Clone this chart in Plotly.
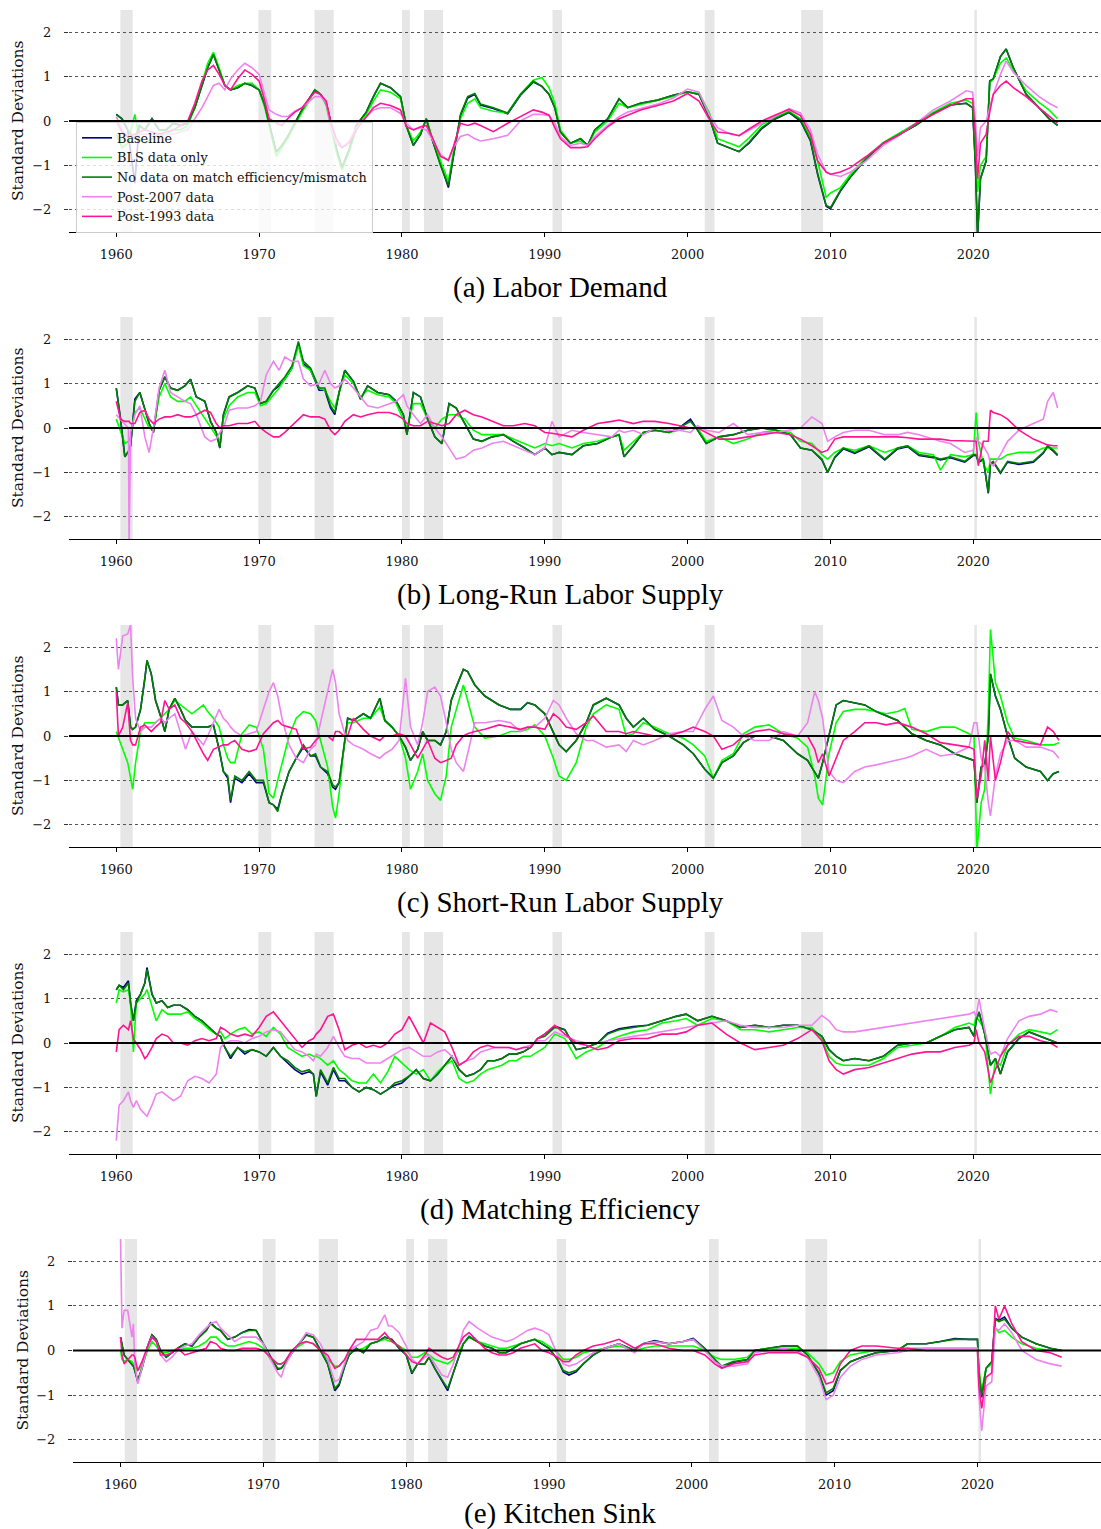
import plotly.graph_objects as go

# ---------------- data ----------------
series_names = ["Baseline", "BLS data only", "No data on match efficiency/mismatch",
                "Post-2007 data", "Post-1993 data"]
series_colors = ["#000080", "#00ff00", "#008000", "#ee82ee", "#ff1493"]
panel_titles = ["(a) Labor Demand", "(b) Long-Run Labor Supply", "(c) Short-Run Labor Supply",
                "(d) Matching Efficiency", "(e) Kitchen Sink"]
year_ticks = [1960, 1970, 1980, 1990, 2000, 2010, 2020]
sd_ticks = [-2, -1, 0, 1, 2]
rec_start = [1960.29, 1969.95, 1973.88, 1980.0, 1981.54, 1990.54, 2001.2, 2007.95, 2020.07]
rec_end = [1961.15, 1970.85, 1975.22, 1980.55, 1982.88, 1991.2, 2001.88, 2009.48, 2020.25]

# ---- (a) Labor Demand ----
years_a = [1960.0, 1960.4, 1960.8, 1961.3, 1961.6, 1962.0, 1962.5, 1963.0, 1963.5, 1964.0,
           1964.5, 1965.0, 1965.5, 1966.0, 1966.4, 1966.8, 1967.2, 1967.6, 1968.0, 1968.5,
           1969.0, 1969.5, 1970.0, 1970.4, 1970.7, 1971.2, 1971.6, 1972.0, 1972.5, 1973.0,
           1973.5, 1973.9, 1974.3, 1974.7, 1975.0, 1975.4, 1975.8, 1976.3, 1976.8, 1977.5,
           1978.0, 1978.5, 1979.2, 1979.9, 1980.3, 1980.8, 1981.3, 1981.7, 1982.1, 1982.7,
           1983.25, 1983.6, 1984.1, 1984.6, 1985.1, 1985.5, 1986.4, 1987.4, 1988.3, 1989.2,
           1989.8, 1990.3, 1990.7, 1991.1, 1991.8, 1992.5, 1993.0, 1993.5, 1994.4, 1995.2,
           1995.8, 1996.7, 1997.9, 1999.0, 2000.0, 2000.8, 2001.5, 2002.1, 2003.0, 2003.6,
           2004.3, 2005.2, 2006.1, 2007.1, 2007.9, 2008.6, 2009.1, 2009.7, 2010.0, 2010.7,
           2011.4, 2012.5, 2013.7, 2014.9, 2016.0, 2017.2, 2018.4, 2019.5, 2019.95, 2020.15,
           2020.3, 2020.5, 2020.9, 2021.15, 2021.4, 2021.9, 2022.3, 2022.8, 2023.7, 2024.6,
           2025.3, 2025.9]
a_baseline = [0.15, 0.05, -0.2, -1.4, -0.1, -0.2, 0.05, -0.2, -0.2, -0.05,
              -0.1, -0.05, 0.3, 0.8, 1.2, 1.5, 1.15, 0.8, 0.7, 0.75,
              0.85, 0.8, 0.7, 0.35, -0.05, -0.7, -0.55, -0.35, -0.05, 0.25,
              0.5, 0.7, 0.6, 0.4, 0.0, -0.6, -1.05, -0.65, -0.1, 0.2,
              0.55, 0.85, 0.75, 0.55, -0.1, -0.55, -0.3, 0.05, -0.4, -1.0,
              -1.5, -0.8, 0.12, 0.52, 0.6, 0.36, 0.28, 0.16, 0.58, 0.88,
              0.78, 0.6, 0.3, -0.25, -0.5, -0.4, -0.55, -0.2, 0.05, 0.5,
              0.3, 0.4, 0.47, 0.58, 0.66, 0.6, 0.1, -0.5, -0.62, -0.69,
              -0.5, -0.17, 0.04, 0.19, 0.0, -0.45, -1.2, -1.92, -1.98, -1.58,
              -1.26, -0.85, -0.5, -0.28, -0.09, 0.17, 0.36, 0.4, 0.3, -1.0,
              -2.6, -1.3, -0.9, 0.9, 0.95, 1.45, 1.62, 1.2, 0.6, 0.3,
              0.05, -0.1]
a_bls = [-0.3, -0.6, -0.5, 0.15, -0.4, -0.5, -0.4, -0.3, -0.3, -0.2,
         -0.2, -0.1, 0.3, 0.85, 1.3, 1.55, 1.2, 0.8, 0.7, 0.8,
         0.85, 0.85, 0.7, 0.3, -0.1, -0.8, -0.6, -0.4, -0.1, 0.2,
         0.45, 0.7, 0.6, 0.35, -0.1, -0.7, -1.1, -0.7, -0.2, 0.15,
         0.45, 0.7, 0.65, 0.5, -0.1, -0.45, -0.25, 0.05, -0.35, -0.9,
         -1.35, -0.7, 0.05, 0.4, 0.5, 0.3, 0.22, 0.18, 0.6, 0.92,
         0.98, 0.75, 0.4, -0.2, -0.5, -0.45, -0.55, -0.25, 0.0, 0.4,
         0.3, 0.38, 0.47, 0.55, 0.66, 0.62, 0.2, -0.4, -0.5, -0.58,
         -0.38, -0.08, 0.08, 0.22, 0.05, -0.35, -0.9, -1.72, -1.62, -1.5,
         -1.2, -0.82, -0.48, -0.26, -0.05, 0.2, 0.4, 0.47, 0.4, -0.7,
         -1.6, -1.0, -0.8, 0.85, 0.95, 1.3, 1.42, 1.15, 0.68, 0.42,
         0.25, 0.05]
a_nodata = [0.15, 0.05, -0.2, -0.4, -0.1, -0.2, 0.05, -0.2, -0.2, -0.05,
            -0.1, -0.05, 0.3, 0.8, 1.2, 1.5, 1.15, 0.8, 0.7, 0.75,
            0.85, 0.8, 0.7, 0.35, -0.05, -0.7, -0.55, -0.35, -0.05, 0.25,
            0.5, 0.7, 0.6, 0.4, 0.0, -0.6, -1.05, -0.65, -0.1, 0.2,
            0.55, 0.85, 0.75, 0.55, -0.1, -0.55, -0.3, 0.05, -0.4, -1.0,
            -1.45, -0.75, 0.15, 0.55, 0.62, 0.38, 0.3, 0.18, 0.6, 0.9,
            0.78, 0.6, 0.3, -0.25, -0.5, -0.4, -0.55, -0.2, 0.05, 0.5,
            0.3, 0.4, 0.47, 0.58, 0.66, 0.6, 0.1, -0.5, -0.62, -0.69,
            -0.48, -0.15, 0.05, 0.2, 0.02, -0.43, -1.18, -1.9, -1.95, -1.56,
            -1.26, -0.85, -0.5, -0.28, -0.09, 0.17, 0.36, 0.4, 0.3, -1.0,
            -2.6, -1.3, -0.9, 0.9, 0.95, 1.45, 1.62, 1.2, 0.6, 0.3,
            0.05, -0.1]
a_post2007 = [0.1, -0.2, -0.35, -0.35, -0.3, -0.3, -0.3, -0.35, -0.3, -0.3,
              -0.25, -0.2, 0.05, 0.3, 0.55, 0.8, 0.85, 0.7, 0.95, 1.15,
              1.3, 1.2, 1.05, 0.6, 0.25, 0.15, 0.1, 0.1, 0.22, 0.3,
              0.45, 0.55, 0.55, 0.4, -0.1, -0.5, -0.6, -0.45, -0.15, 0.1,
              0.25, 0.3, 0.3, 0.17, -0.05, -0.2, -0.15, -0.2, -0.4, -0.75,
              -0.9, -0.6, -0.35, -0.3, -0.4, -0.45, -0.4, -0.32, 0.0, 0.15,
              0.15, 0.12, -0.05, -0.35, -0.55, -0.5, -0.55, -0.35, -0.1, 0.1,
              0.2, 0.28, 0.38, 0.52, 0.72, 0.65, 0.15, -0.15, -0.3, -0.33,
              -0.2, -0.05, 0.1, 0.28, 0.18, -0.2, -0.75, -1.15, -1.2, -1.25,
              -1.15, -0.9, -0.55, -0.3, -0.05, 0.25, 0.45, 0.68, 0.65, 0.0,
              -0.8, -0.15, 0.0, 0.3, 0.6, 1.05, 1.35, 1.1, 0.8, 0.55,
              0.4, 0.3]
a_post1993 = [0.0, -0.25, -0.35, -0.3, -0.25, -0.2, -0.25, -0.3, -0.25, -0.2,
              -0.1, 0.0, 0.4, 0.9, 1.15, 1.25, 1.05, 0.8, 0.7, 0.95,
              1.15, 1.05, 0.9, 0.45, 0.05, -0.05, -0.1, 0.05, 0.2, 0.3,
              0.5, 0.65, 0.6, 0.45, 0.0, -0.4, -0.6, -0.5, -0.2, 0.1,
              0.3, 0.4, 0.35, 0.25, -0.13, -0.2, -0.13, -0.1, -0.35, -0.8,
              -0.88, -0.58, -0.05, -0.1, -0.05, -0.1, -0.24, -0.05, 0.1, 0.25,
              0.2, 0.13, -0.15, -0.4, -0.6, -0.6, -0.58, -0.4, -0.13, 0.05,
              0.13, 0.25, 0.35, 0.45, 0.62, 0.45, 0.05, -0.25, -0.28, -0.33,
              -0.18, 0.0, 0.13, 0.26, 0.12, -0.3, -0.9, -1.15, -1.2, -1.15,
              -1.05, -0.8, -0.5, -0.3, -0.05, 0.15, 0.35, 0.5, 0.5, -0.3,
              -1.3, -0.5, -0.3, 0.2, 0.6, 0.8, 0.9, 0.75, 0.55, 0.3,
              0.1, -0.05]

# ---- (b) Long-Run Labor Supply ----
years_b = [1960.0, 1960.3, 1960.6, 1960.85, 1960.9, 1961.0, 1961.3, 1961.65, 1962.0, 1962.3,
           1962.6, 1963.0, 1963.4, 1963.8, 1964.3, 1964.8, 1965.2, 1965.6, 1966.2, 1966.6,
           1967.0, 1967.25, 1967.5, 1967.9, 1968.5, 1969.2, 1969.7, 1970.1, 1970.5, 1971.0,
           1971.4, 1971.8, 1972.3, 1972.75, 1973.1, 1973.6, 1974.2, 1974.6, 1975.0, 1975.3,
           1975.6, 1976.0, 1976.6, 1977.1, 1977.6, 1978.3, 1979.1, 1979.6, 1980.1, 1980.35,
           1980.8, 1981.3, 1981.8, 1982.3, 1982.8, 1983.3, 1983.8, 1984.4, 1985.0, 1985.6,
           1986.3, 1987.1, 1987.8, 1988.6, 1989.3, 1990.0, 1990.5, 1991.0, 1991.9, 1992.7,
           1993.7, 1994.7, 1995.2, 1995.55, 1996.2, 1996.9, 1997.7, 1998.7, 1999.4, 2000.2,
           2000.7, 2001.3, 2002.2, 2003.2, 2004.2, 2005.2, 2006.2, 2007.2, 2007.9, 2008.7,
           2009.4, 2009.8, 2010.3, 2010.9, 2011.7, 2012.7, 2013.8, 2014.7, 2015.4, 2016.2,
           2017.2, 2017.7, 2018.4, 2019.4, 2020.0, 2020.2, 2020.35, 2020.7, 2021.05, 2021.2,
           2021.4, 2021.9, 2022.4, 2023.2, 2024.2, 2024.9, 2025.2, 2025.6, 2025.9]
b_baseline = [0.9, 0.2, -0.65, -0.5, -0.5, -0.4, 0.65, 0.8, 0.4, 0.1,
              -0.1, 0.85, 1.15, 0.9, 0.85, 0.95, 1.1, 0.7, 0.6, 0.15,
              -0.1, -0.45, 0.3, 0.7, 0.8, 0.95, 0.9, 0.55, 0.6, 0.85,
              0.95, 1.1, 1.35, 1.9, 1.45, 1.3, 0.85, 0.85, 0.45, 0.3,
              0.8, 1.3, 1.05, 0.65, 0.95, 0.8, 0.75, 0.6, 0.3, -0.15,
              0.8, 0.7, 0.2, -0.2, -0.35, 0.55, 0.45, 0.1, -0.25, -0.3,
              -0.2, -0.15, -0.3, -0.45, -0.6, -0.45, -0.6, -0.55, -0.6, -0.4,
              -0.35, -0.2, -0.15, -0.65, -0.4, -0.1, -0.05, -0.1, 0.0, 0.2,
              -0.05, -0.35, -0.2, -0.15, -0.05, 0.0, -0.05, -0.15, -0.45, -0.5,
              -0.72, -1.0, -0.67, -0.47, -0.57, -0.42, -0.72, -0.47, -0.42, -0.62,
              -0.67, -0.72, -0.67, -0.77, -0.62, -0.62, -0.77, -0.72, -1.47, -0.82,
              -0.77, -1.02, -0.77, -0.82, -0.77, -0.57, -0.42, -0.52, -0.62]
b_bls = [0.2, -0.1, -0.35, -0.3, -0.3, -0.2, 0.35, 0.45, 0.2, 0.0,
         -0.05, 0.7, 1.0, 0.7, 0.6, 0.6, 0.7, 0.5, 0.2, 0.0,
         -0.2, -0.3, 0.2, 0.5, 0.7, 0.8, 0.8, 0.5, 0.55, 0.75,
         0.9, 1.1, 1.35, 1.85, 1.4, 1.3, 0.9, 0.85, 0.6, 0.45,
         0.8, 1.2, 1.0, 0.7, 0.85, 0.75, 0.7, 0.55, 0.2, 0.0,
         0.55, 0.55, 0.2, 0.0, 0.2, 0.3, 0.3, 0.2, -0.05, -0.15,
         -0.15, -0.15, -0.25, -0.35, -0.45, -0.35, -0.4, -0.35, -0.45, -0.35,
         -0.3, -0.2, -0.15, -0.5, -0.3, -0.1, -0.05, -0.1, -0.05, 0.0,
         0.0, -0.3, -0.2, -0.35, -0.25, -0.1, -0.05, -0.1, -0.3, -0.35,
         -0.6, -0.7, -0.55, -0.45, -0.5, -0.4, -0.55, -0.45, -0.4, -0.55,
         -0.6, -0.95, -0.6, -0.65, -0.6, 0.35, -0.3, -0.8, -1.0, -0.7,
         -0.7, -0.7, -0.6, -0.55, -0.55, -0.45, -0.45, -0.45, -0.45]
b_nodata = [0.9, 0.2, -0.65, -0.5, -0.5, -0.4, 0.6, 0.8, 0.4, 0.1,
            -0.1, 0.85, 1.15, 0.9, 0.85, 0.95, 1.1, 0.7, 0.6, 0.15,
            -0.1, -0.45, 0.3, 0.7, 0.8, 0.95, 0.9, 0.55, 0.6, 0.85,
            1.0, 1.15, 1.4, 1.95, 1.5, 1.35, 0.9, 0.9, 0.5, 0.35,
            0.8, 1.3, 1.05, 0.65, 0.95, 0.8, 0.75, 0.6, 0.3, -0.15,
            0.8, 0.7, 0.2, -0.2, -0.35, 0.55, 0.45, 0.1, -0.25, -0.3,
            -0.2, -0.15, -0.3, -0.45, -0.6, -0.45, -0.6, -0.55, -0.6, -0.4,
            -0.35, -0.2, -0.15, -0.65, -0.4, -0.1, -0.05, -0.1, 0.0, 0.15,
            -0.05, -0.35, -0.2, -0.15, -0.05, 0.0, -0.05, -0.15, -0.45, -0.5,
            -0.7, -1.0, -0.65, -0.45, -0.55, -0.4, -0.7, -0.45, -0.4, -0.6,
            -0.65, -0.7, -0.65, -0.75, -0.6, -0.6, -0.75, -0.7, -1.45, -0.8,
            -0.75, -1.0, -0.75, -0.8, -0.75, -0.55, -0.4, -0.5, -0.6]
b_post2007 = [0.3, 0.2, 0.1, 0.0, -2.6, -0.1, 0.3, 0.5, -0.2, -0.55,
              0.0, 0.9, 1.3, 0.8, 0.7, 0.6, 0.55, 0.3, -0.2, -0.3,
              -0.25, -0.1, 0.0, 0.4, 0.45, 0.45, 0.5, 0.6, 1.2, 1.5,
              1.3, 1.6, 1.5, 1.5, 1.1, 0.95, 1.0, 1.3, 1.0, 0.9,
              0.95, 1.1, 0.9, 0.7, 0.5, 0.45, 0.55, 0.6, 0.75, 0.5,
              0.3, 0.1, 0.3, 0.0, -0.2, -0.45, -0.7, -0.65, -0.5, -0.45,
              -0.35, -0.3, -0.4, -0.5, -0.6, -0.45, 0.15, -0.2, -0.05, -0.1,
              -0.15, -0.2, -0.05, -0.1, -0.05, -0.15, 0.0, -0.05, -0.05, -0.1,
              0.05, -0.05, -0.1, 0.1, -0.15, -0.1, -0.1, -0.05, 0.0, 0.25,
              0.1, -0.3, -0.2, -0.1, -0.05, -0.05, -0.15, -0.15, -0.1, -0.15,
              -0.25, -0.3, -0.35, -0.55, -0.5, -0.2, -0.3, -0.4, -0.6, -0.8,
              -0.85, -0.6, -0.3, -0.05, 0.1, 0.2, 0.6, 0.8, 0.45]
b_post1993 = [0.6, 0.2, 0.15, 0.15, 0.15, 0.1, 0.1, 0.35, 0.4, 0.2,
              0.1, 0.2, 0.25, 0.25, 0.3, 0.25, 0.25, 0.3, 0.4, 0.35,
              0.1, 0.0, 0.05, 0.05, 0.1, 0.1, 0.15, 0.0, -0.1, -0.2,
              -0.2, -0.1, 0.05, 0.2, 0.3, 0.25, 0.25, 0.2, -0.05, -0.15,
              -0.05, 0.15, 0.3, 0.25, 0.3, 0.35, 0.35, 0.3, 0.2, 0.1,
              0.05, 0.05, 0.15, 0.1, 0.05, 0.1, 0.3, 0.4, 0.3, 0.25,
              0.15, 0.05, 0.05, 0.1, 0.05, -0.1, -0.12, -0.15, -0.2, -0.05,
              0.1, 0.15, 0.18, 0.15, 0.1, 0.15, 0.15, 0.1, 0.05, 0.0,
              0.0, -0.1, -0.25, -0.25, -0.2, -0.15, -0.1, -0.15, -0.25, -0.4,
              -0.55, -0.5, -0.25, -0.2, -0.2, -0.2, -0.2, -0.2, -0.22, -0.25,
              -0.25, -0.25, -0.28, -0.3, -0.3, -0.3, -0.85, -0.3, -0.3, 0.4,
              0.35, 0.3, 0.2, -0.05, -0.25, -0.35, -0.38, -0.4, -0.4]

# ---- (c) Short-Run Labor Supply ----
years_c = [1960.0, 1960.15, 1960.45, 1960.8, 1961.0, 1961.15, 1961.35, 1961.7, 1962.0, 1962.15,
           1962.45, 1962.75, 1963.1, 1963.4, 1963.7, 1964.1, 1964.5, 1964.85, 1965.3, 1966.1,
           1966.4, 1966.8, 1967.2, 1967.5, 1967.8, 1968.0, 1968.3, 1968.8, 1969.3, 1969.8,
           1970.3, 1970.7, 1971.0, 1971.3, 1971.6, 1972.1, 1972.6, 1973.1, 1973.6, 1973.95,
           1974.3, 1974.8, 1975.15, 1975.35, 1975.6, 1975.95, 1976.2, 1976.6, 1977.3, 1977.8,
           1978.45, 1978.8, 1979.3, 1979.8, 1980.25, 1980.6, 1981.1, 1981.45, 1981.8, 1982.3,
           1982.7, 1983.1, 1983.45, 1983.8, 1984.3, 1984.6, 1985.1, 1985.8, 1986.8, 1987.6,
           1988.3, 1988.8, 1989.3, 1990.0, 1990.6, 1991.0, 1991.5, 1992.2, 1992.9, 1993.4,
           1994.3, 1995.2, 1995.7, 1996.2, 1996.9, 1997.7, 1998.7, 1999.7, 2000.4, 2001.2,
           2001.8, 2002.4, 2003.2, 2003.9, 2004.7, 2005.7, 2006.7, 2007.7, 2008.4, 2008.9,
           2009.15, 2009.45, 2009.9, 2010.4, 2010.9, 2011.7, 2012.4, 2013.2, 2013.9, 2014.7,
           2015.2, 2015.7, 2016.7, 2017.7, 2018.7, 2019.7, 2020.05, 2020.25, 2020.55, 2020.8,
           2021.05, 2021.2, 2021.55, 2021.9, 2022.4, 2022.9, 2023.7, 2024.7, 2025.2, 2025.6, 2026.0]
c_baseline = [1.1, 0.7, 0.7, 0.8, 0.2, 0.15, 0.2, 0.6, 1.3, 1.7,
              1.4, 0.8, 0.45, 0.1, 0.6, 0.85, 0.6, 0.35, 0.2, 0.2,
              0.2, 0.25, -0.3, -0.8, -0.95, -1.5, -0.95, -1.05, -0.85, -1.05,
              -1.05, -1.5, -1.55, -1.65, -1.3, -0.8, -0.5, -0.25, -0.45, -0.45,
              -0.7, -0.85, -1.15, -1.2, -1.05, -0.25, 0.4, 0.35, 0.5, 0.4,
              0.85, 0.35, 0.2, 0.0, -0.25, -0.55, -0.3, 0.1, -0.1, -0.1,
              -0.2, 0.1, 0.8, 1.1, 1.5, 1.45, 1.15, 0.9, 0.7, 0.6,
              0.6, 0.75, 0.7, 0.5, 0.1, -0.2, -0.35, -0.1, 0.3, 0.7,
              0.85, 0.7, 0.4, 0.2, 0.4, 0.15, 0.0, -0.2, -0.4, -0.75,
              -0.95, -0.6, -0.45, -0.15, 0.0, 0.0, -0.1, -0.4, -0.55, -0.8,
              -0.95, -0.6, 0.0, 0.7, 0.8, 0.75, 0.7, 0.55, 0.45, 0.35,
              0.2, 0.05, -0.1, -0.2, -0.4, -0.5, -0.55, -1.5, -0.7, -0.65,
              0.0, 1.4, 0.9, 0.6, 0.0, -0.5, -0.7, -0.8, -1.0, -0.85, -0.8]
c_bls = [0.1, -0.05, -0.3, -0.6, -1.0, -1.2, -0.6, 0.1, 0.3, 0.3,
         0.3, 0.3, 0.4, 0.5, 0.6, 0.8, 0.7, 0.6, 0.5, 0.7,
         0.55, 0.4, 0.2, -0.2, -0.5, -0.6, -0.6, 0.05, 0.25, 0.2,
         -0.3, -1.3, -1.4, -1.0, -0.6, 0.0, 0.4, 0.55, 0.5, 0.35,
         -0.1, -0.7, -1.6, -1.85, -1.3, -0.2, 0.3, 0.3, 0.4, 0.4,
         0.65, 0.35, 0.2, 0.0, -0.5, -1.2, -0.8, -0.4, -1.0, -1.3,
         -1.45, -0.9, 0.2, 0.6, 1.15, 0.8, 0.2, -0.05, 0.0, 0.1,
         0.1, 0.15, 0.25, 0.0, -0.5, -0.9, -1.0, -0.6, 0.2, 0.5,
         0.7, 0.6, 0.0, 0.05, 0.3, 0.2, 0.05, -0.05, -0.2, -0.45,
         -0.95, -0.55, -0.4, 0.05, 0.2, 0.25, 0.05, -0.05, -0.25, -0.9,
         -1.4, -1.55, -0.4, 0.3, 0.55, 0.6, 0.6, 0.55, 0.5, 0.55,
         0.62, 0.15, 0.1, 0.2, 0.2, 0.05, 0.0, -2.6, -1.5, -1.2,
         0.5, 2.4, 1.2, 0.9, 0.3, -0.05, -0.1, -0.2, -0.2, -0.2, -0.15]
c_nodata = [1.1, 0.7, 0.7, 0.8, 0.2, 0.15, 0.2, 0.6, 1.3, 1.7,
            1.4, 0.8, 0.45, 0.1, 0.6, 0.85, 0.6, 0.35, 0.2, 0.2,
            0.2, 0.25, -0.3, -0.8, -0.9, -1.45, -0.9, -1.0, -0.8, -1.0,
            -1.0, -1.5, -1.55, -1.7, -1.3, -0.8, -0.5, -0.2, -0.45, -0.4,
            -0.7, -0.8, -1.1, -1.15, -1.05, -0.25, 0.4, 0.35, 0.5, 0.4,
            0.85, 0.35, 0.2, 0.0, -0.25, -0.55, -0.3, 0.1, -0.1, -0.1,
            -0.2, 0.1, 0.8, 1.1, 1.5, 1.45, 1.15, 0.9, 0.7, 0.6,
            0.6, 0.75, 0.7, 0.5, 0.1, -0.2, -0.35, -0.1, 0.3, 0.7,
            0.85, 0.7, 0.4, 0.2, 0.4, 0.15, 0.0, -0.2, -0.4, -0.75,
            -0.95, -0.6, -0.45, -0.15, 0.0, 0.0, -0.1, -0.4, -0.55, -0.8,
            -0.95, -0.6, 0.0, 0.7, 0.8, 0.75, 0.7, 0.55, 0.45, 0.35,
            0.2, 0.05, -0.1, -0.2, -0.4, -0.5, -0.55, -1.5, -0.7, -0.65,
            0.0, 1.4, 0.9, 0.6, 0.0, -0.5, -0.7, -0.8, -1.0, -0.85, -0.8]
c_post2007 = [2.2, 1.5, 2.25, 2.3, 2.5, 1.3, 0.4, 0.1, 0.2, 0.2,
              0.2, 0.3, 0.4, 0.3, 0.4, 0.5, 0.1, -0.3, 0.1, -0.2,
              0.0, 0.3, 0.6, 0.4, 0.3, 0.2, 0.1, 0.0, 0.05, 0.1,
              0.6, 1.0, 1.2, 0.9, 0.4, -0.2, -0.5, -0.6, -0.3, -0.2,
              0.3, 1.0, 1.5, 1.2, 0.5, 0.1, -0.1, -0.2, -0.3, -0.4,
              -0.5, -0.4, -0.3, -0.1, 1.3, 0.2, -0.2, 0.3, 1.0, 1.1,
              0.9, 0.3, -0.3, -0.6, -0.8, -0.4, 0.3, 0.3, 0.35, 0.3,
              0.1, 0.2, 0.2, 0.4, 0.8, 0.7, 0.4, 0.05, -0.1, -0.1,
              -0.25, -0.2, -0.35, -0.1, -0.2, -0.1, 0.05, 0.1, 0.1, 0.6,
              0.9, 0.35, 0.2, 0.0, -0.1, -0.1, 0.1, 0.0, 0.3, 1.0,
              0.8, 0.4, -0.8, -1.0, -1.05, -0.8, -0.7, -0.65, -0.6, -0.55,
              -0.5, -0.45, -0.3, -0.45, -0.4, -0.25, 0.3, 0.3, -0.5, -0.7,
              -1.5, -1.8, -0.9, -0.4, -0.1, -0.1, -0.25, -0.25, -0.3, -0.35, -0.5]
c_post1993 = [1.0, 0.0, 0.2, 0.75, -0.1, -0.2, -0.2, 0.2, 0.25, 0.2,
              0.1, 0.2, 0.3, 0.8, 0.6, 0.7, 0.4, 0.3, 0.1, -0.4,
              -0.55, -0.3, -0.25, -0.2, -0.2, -0.15, -0.1, -0.3, -0.35, -0.3,
              0.05, 0.2, 0.3, 0.35, 0.25, 0.2, 0.15, -0.3, -0.25, -0.1,
              0.0, 0.0, -0.1, 0.1, 0.1, 0.0, 0.0, 0.4, 0.15, 0.0,
              -0.1, 0.0, 0.0, 0.05, 0.0, -0.2, -0.5, -0.3, -0.1, -0.5,
              -0.6, -0.55, -0.5, -0.2, 0.0, 0.05, 0.1, 0.15, 0.25, 0.2,
              0.15, 0.2, 0.2, 0.15, 0.5, 0.4, 0.2, 0.15, 0.3, 0.45,
              0.1, 0.1, 0.05, 0.1, 0.05, 0.0, 0.0, 0.1, 0.2, 0.1,
              0.0, -0.3, -0.2, 0.0, 0.1, 0.15, 0.05, 0.0, 0.0, -0.3,
              -0.6, -0.4, -0.9, -0.5, -0.1, 0.1, 0.3, 0.3, 0.25, 0.3,
              0.25, 0.2, 0.05, -0.15, -0.2, -0.25, -0.3, -1.4, -0.9, -0.1,
              -1.0, 0.0, -1.0, -0.6, 0.1, -0.1, -0.15, -0.2, 0.2, 0.1, -0.1]

# ---- (d) Matching Efficiency ----
years_d = [1960.0, 1960.2, 1960.5, 1960.85, 1961.0, 1961.2, 1961.4, 1961.7, 1962.0, 1962.15,
           1962.5, 1962.8, 1963.2, 1963.6, 1964.0, 1964.5, 1965.0, 1965.5, 1966.0, 1966.5,
           1967.0, 1967.3, 1967.6, 1968.0, 1968.5, 1969.0, 1969.5, 1970.0, 1970.5, 1971.0,
           1971.5, 1972.0, 1972.5, 1973.0, 1973.5, 1973.8, 1974.0, 1974.3, 1974.8, 1975.2,
           1975.6, 1976.0, 1976.5, 1977.0, 1977.5, 1978.0, 1978.5, 1979.0, 1979.5, 1980.0,
           1980.5, 1981.0, 1981.5, 1982.0, 1982.5, 1983.0, 1983.5, 1984.0, 1984.5, 1985.0,
           1985.5, 1986.0, 1986.5, 1987.0, 1987.5, 1988.0, 1988.5, 1989.0, 1989.5, 1990.0,
           1990.7, 1991.4, 1992.2, 1992.9, 1993.7, 1994.4, 1995.2, 1996.2, 1997.2, 1998.2,
           1999.2, 1999.9, 2000.7, 2001.7, 2002.7, 2003.7, 2004.7, 2005.7, 2006.7, 2007.7,
           2008.7, 2009.4, 2009.9, 2010.4, 2010.9, 2011.7, 2012.7, 2013.7, 2014.7, 2015.7,
           2016.7, 2017.7, 2018.7, 2019.7, 2020.05, 2020.2, 2020.4, 2020.8, 2021.2, 2021.55,
           2021.9, 2022.4, 2023.2, 2023.9, 2024.7, 2025.4, 2025.9]
d_baseline = [1.2, 1.3, 1.25, 1.4, 0.9, 0.5, 0.95, 1.1, 1.35, 1.7,
              1.1, 0.9, 0.95, 0.8, 0.85, 0.85, 0.75, 0.6, 0.5, 0.35,
              0.2, 0.15, -0.1, -0.35, -0.1, -0.25, -0.15, -0.2, -0.3, -0.1,
              -0.3, -0.45, -0.6, -0.7, -0.65, -0.7, -1.2, -0.65, -0.95, -0.6,
              -0.85, -0.85, -1.0, -1.1, -1.0, -1.05, -1.15, -1.05, -0.95, -0.9,
              -0.75, -0.6, -0.8, -0.85, -0.7, -0.5, -0.3, -0.6, -0.75, -0.7,
              -0.6, -0.4, -0.4, -0.35, -0.25, -0.25, -0.2, -0.1, 0.1, 0.2,
              0.38, 0.3, -0.15, -0.1, 0.0, 0.22, 0.32, 0.37, 0.4, 0.5,
              0.6, 0.65, 0.5, 0.6, 0.5, 0.35, 0.4, 0.35, 0.4, 0.4,
              0.3, 0.15, -0.15, -0.3, -0.4, -0.35, -0.4, -0.3, -0.05, 0.0,
              0.0, 0.15, 0.3, 0.35, 0.15, 0.5, 0.7, 0.2, -0.5, -0.35,
              -0.7, -0.2, 0.1, 0.25, 0.15, 0.05, 0.0]
d_bls = [0.9, 1.2, 1.15, 1.2, 0.9, -0.2, 0.9, 1.0, 1.1, 1.2,
         0.8, 0.5, 0.75, 0.65, 0.65, 0.65, 0.7, 0.55, 0.45, 0.3,
         0.2, 0.25, 0.1, 0.2, 0.3, 0.35, 0.2, 0.25, 0.15, 0.35,
         0.2, -0.1, -0.2, -0.3, -0.25, -0.3, -0.3, -0.35, -0.5, -0.4,
         -0.6, -0.7, -0.85, -0.9, -0.9, -0.7, -0.9, -0.65, -0.3, -0.45,
         -0.6, -0.7, -0.6, -0.85, -0.65, -0.5, -0.4, -0.8, -0.9, -0.85,
         -0.7, -0.6, -0.55, -0.5, -0.4, -0.4, -0.3, -0.3, -0.2, -0.1,
         0.2, 0.1, -0.35, -0.2, -0.1, 0.05, 0.15, 0.25, 0.3, 0.45,
         0.5, 0.55, 0.4, 0.55, 0.5, 0.3, 0.3, 0.25, 0.3, 0.35,
         0.35, 0.1, -0.3, -0.45, -0.5, -0.5, -0.5, -0.35, -0.1, -0.05,
         0.0, 0.15, 0.35, 0.45, 0.4, 0.6, 0.5, 0.3, -1.15, -0.4,
         -0.5, -0.05, 0.2, 0.3, 0.25, 0.2, 0.3]
d_nodata = [1.2, 1.3, 1.2, 1.35, 0.9, 0.5, 0.9, 1.1, 1.35, 1.65,
            1.1, 0.9, 0.95, 0.8, 0.85, 0.85, 0.75, 0.6, 0.5, 0.35,
            0.2, 0.15, -0.1, -0.3, -0.1, -0.2, -0.15, -0.2, -0.3, -0.1,
            -0.3, -0.4, -0.55, -0.65, -0.6, -0.7, -1.2, -0.6, -0.9, -0.55,
            -0.8, -0.8, -1.0, -1.1, -1.0, -1.05, -1.15, -1.05, -0.9, -0.85,
            -0.75, -0.6, -0.8, -0.85, -0.7, -0.5, -0.3, -0.6, -0.75, -0.7,
            -0.6, -0.4, -0.4, -0.35, -0.25, -0.25, -0.2, -0.1, 0.1, 0.15,
            0.35, 0.3, -0.15, -0.1, 0.0, 0.2, 0.3, 0.35, 0.4, 0.5,
            0.6, 0.65, 0.5, 0.6, 0.5, 0.35, 0.4, 0.35, 0.4, 0.4,
            0.3, 0.15, -0.15, -0.3, -0.4, -0.35, -0.4, -0.3, -0.05, 0.0,
            0.0, 0.15, 0.3, 0.35, 0.15, 0.5, 0.7, 0.2, -0.5, -0.35,
            -0.7, -0.2, 0.1, 0.25, 0.15, 0.05, 0.0]
d_post2007 = [-2.2, -1.4, -1.3, -1.1, -1.3, -1.45, -1.3, -1.5, -1.6, -1.65,
              -1.4, -1.15, -1.1, -1.2, -1.3, -1.2, -0.85, -0.75, -0.8, -0.9,
              -0.7, -0.1, 0.0, 0.05, 0.05, 0.0, 0.1, 0.15, 0.25, 0.3,
              0.25, 0.05, -0.15, -0.2, -0.3, -0.4, -0.25, -0.3, -0.1, 0.15,
              -0.1, -0.3, -0.35, -0.35, -0.45, -0.45, -0.45, -0.35, -0.25, -0.15,
              -0.1, -0.2, -0.3, -0.3, -0.2, -0.15, -0.3, -0.5, -0.4, -0.35,
              -0.2, -0.15, -0.1, -0.1, -0.1, -0.15, -0.1, -0.05, 0.05, 0.05,
              0.25, 0.15, 0.05, 0.0, 0.0, 0.05, 0.1, 0.15, 0.2, 0.25,
              0.3, 0.35, 0.4, 0.45, 0.5, 0.4, 0.35, 0.35, 0.35, 0.4,
              0.4, 0.62, 0.5, 0.3, 0.25, 0.25, 0.3, 0.35, 0.4, 0.45,
              0.5, 0.55, 0.6, 0.65, 0.7, 0.6, 1.0, 0.3, -0.25, -0.2,
              -0.3, 0.1, 0.5, 0.6, 0.65, 0.75, 0.7]
d_post1993 = [-0.2, 0.3, 0.4, 0.3, 0.5, 0.1, 0.0, -0.15, -0.35, -0.3,
              -0.1, 0.1, 0.2, 0.15, 0.0, 0.0, -0.05, 0.05, 0.1, 0.05,
              0.1, 0.35, 0.3, 0.2, 0.15, 0.2, 0.15, 0.35, 0.6, 0.7,
              0.5, 0.3, 0.1, -0.1, 0.05, 0.1, 0.2, 0.3, 0.6, 0.65,
              0.3, -0.15, -0.05, 0.0, -0.1, -0.05, -0.1, 0.0, 0.2, 0.3,
              0.6, 0.3, 0.0, 0.45, 0.35, 0.25, -0.1, -0.5, -0.4, -0.2,
              -0.1, -0.05, -0.1, -0.1, -0.1, -0.15, -0.1, -0.1, 0.1, 0.2,
              0.4, 0.2, 0.0, -0.05, -0.15, -0.1, 0.05, 0.1, 0.1, 0.2,
              0.2, 0.25, 0.4, 0.45, 0.2, 0.0, -0.15, -0.1, -0.05, 0.1,
              0.3, 0.05, -0.4, -0.6, -0.7, -0.6, -0.55, -0.45, -0.35, -0.25,
              -0.2, -0.2, -0.1, -0.05, 0.0, 0.3, 0.0, -0.2, -0.9, -0.6,
              -0.3, -0.05, 0.15, 0.15, 0.05, 0.0, -0.1]

# ---- (e) Kitchen Sink ----
years_e = [1960.0, 1960.1, 1960.25, 1960.5, 1960.8, 1960.9, 1961.0, 1961.2, 1961.5, 1961.9,
           1962.2, 1962.5, 1962.8, 1963.2, 1963.6, 1964.0, 1964.5, 1965.0, 1965.5, 1966.0,
           1966.3, 1966.7, 1967.0, 1967.5, 1968.0, 1968.5, 1969.0, 1969.5, 1970.0, 1970.5,
           1971.0, 1971.25, 1971.5, 1972.0, 1972.5, 1973.0, 1973.5, 1974.0, 1974.5, 1975.0,
           1975.3, 1975.7, 1976.0, 1976.5, 1977.0, 1977.5, 1978.0, 1978.5, 1978.75, 1979.0,
           1979.5, 1980.0, 1980.4, 1980.8, 1981.3, 1981.6, 1982.0, 1982.5, 1982.9, 1983.3,
           1983.7, 1984.0, 1984.4, 1985.0, 1985.5, 1986.0, 1986.5, 1987.0, 1987.5, 1988.0,
           1988.5, 1989.0, 1989.5, 1990.0, 1990.6, 1991.0, 1991.4, 1991.9, 1992.4, 1993.1,
           1993.9, 1994.9, 1996.0, 1996.6, 1997.4, 1998.4, 1999.4, 2000.1, 2000.9, 2001.6,
           2002.1, 2002.9, 2003.9, 2004.4, 2005.4, 2006.4, 2007.4, 2008.1, 2008.9, 2009.4,
           2009.9, 2010.4, 2011.1, 2011.9, 2012.9, 2014.4, 2015.1, 2016.4, 2017.4, 2018.4,
           2019.4, 2020.0, 2020.1, 2020.3, 2020.6, 2021.0, 2021.25, 2021.5, 2021.9, 2022.4,
           2023.1, 2024.1, 2025.1, 2025.9]
e_baseline = [0.3, 0.1, -0.1, -0.2, -0.3, -0.35, -0.45, -0.7, -0.4, 0.1,
              0.35, 0.25, 0.0, -0.15, -0.05, 0.05, 0.15, 0.1, 0.3, 0.45,
              0.62, 0.5, 0.45, 0.25, 0.3, 0.4, 0.47, 0.45, 0.15, -0.15,
              -0.42, -0.4, -0.3, -0.05, 0.15, 0.35, 0.3, 0.0, -0.3, -0.9,
              -0.78, -0.35, -0.1, 0.05, -0.05, 0.15, 0.2, 0.3, 0.28, 0.25,
              0.05, -0.1, -0.52, -0.3, -0.3, -0.15, -0.4, -0.68, -0.9, -0.5,
              -0.1, 0.15, 0.32, 0.2, 0.1, 0.05, -0.05, -0.05, 0.05, 0.15,
              0.2, 0.25, 0.15, 0.05, -0.2, -0.48, -0.55, -0.48, -0.3, -0.1,
              0.05, 0.15, 0.0, 0.15, 0.22, 0.15, 0.2, 0.27, 0.05, -0.2,
              -0.38, -0.27, -0.2, 0.0, 0.05, 0.1, 0.1, -0.1, -0.52, -1.0,
              -0.9, -0.45, -0.25, -0.15, -0.05, 0.0, 0.15, 0.15, 0.2, 0.27,
              0.25, 0.25, -0.5, -1.05, -0.4, -0.25, 0.72, 0.68, 0.75, 0.5,
              0.3, 0.15, 0.05, 0.0]
e_bls = [0.0, -0.2, -0.25, -0.2, -0.25, -0.3, -0.3, -0.45, -0.35, 0.0,
         0.2, 0.1, -0.05, -0.05, 0.0, 0.0, 0.05, 0.05, 0.1, 0.2,
         0.3, 0.3, 0.2, 0.1, 0.1, 0.15, 0.2, 0.15, 0.05, -0.2,
         -0.3, -0.3, -0.25, 0.0, 0.1, 0.2, 0.15, 0.0, -0.2, -0.35,
         -0.35, -0.2, -0.05, 0.0, 0.05, 0.15, 0.2, 0.25, 0.22, 0.2,
         0.1, 0.0, -0.15, -0.15, -0.05, -0.1, -0.2, -0.25, -0.3, -0.2,
         0.0, 0.15, 0.3, 0.2, 0.15, 0.1, 0.05, 0.05, 0.1, 0.15,
         0.2, 0.25, 0.2, 0.1, -0.05, -0.2, -0.2, -0.15, -0.05, 0.0,
         0.05, 0.1, 0.0, 0.05, 0.1, 0.1, 0.1, 0.1, 0.0, -0.15,
         -0.2, -0.2, -0.15, 0.0, 0.05, 0.05, 0.05, -0.05, -0.3, -0.55,
         -0.5, -0.25, -0.1, -0.05, 0.0, 0.0, 0.05, 0.05, 0.05, 0.05,
         0.05, 0.05, -0.4, -0.9, -0.4, -0.3, 0.5, 0.4, 0.45, 0.3,
         0.15, 0.05, 0.0, 0.0]
e_nodata = [0.3, 0.1, -0.1, -0.2, -0.3, -0.35, -0.45, -0.65, -0.4, 0.1,
            0.35, 0.25, 0.0, -0.15, -0.05, 0.05, 0.15, 0.1, 0.3, 0.45,
            0.6, 0.5, 0.45, 0.25, 0.3, 0.4, 0.45, 0.45, 0.15, -0.15,
            -0.4, -0.4, -0.3, -0.05, 0.15, 0.35, 0.3, 0.0, -0.3, -0.85,
            -0.75, -0.35, -0.1, 0.05, -0.05, 0.15, 0.2, 0.3, 0.28, 0.25,
            0.05, -0.1, -0.5, -0.3, -0.3, -0.15, -0.4, -0.65, -0.85, -0.5,
            -0.1, 0.15, 0.3, 0.2, 0.1, 0.05, -0.05, -0.05, 0.05, 0.15,
            0.2, 0.25, 0.15, 0.05, -0.2, -0.45, -0.5, -0.45, -0.3, -0.1,
            0.05, 0.15, 0.0, 0.15, 0.2, 0.15, 0.2, 0.25, 0.05, -0.2,
            -0.35, -0.25, -0.2, 0.0, 0.05, 0.1, 0.1, -0.1, -0.5, -0.95,
            -0.85, -0.45, -0.25, -0.15, -0.05, 0.0, 0.15, 0.15, 0.2, 0.25,
            0.25, 0.25, -0.5, -1.0, -0.4, -0.25, 0.7, 0.65, 0.7, 0.5,
            0.3, 0.15, 0.05, 0.0]
e_post2007 = [2.5, 0.5, 0.9, 0.9, 0.3, 0.6, -0.3, -0.75, -0.4, 0.1,
              0.3, 0.2, -0.1, -0.25, -0.15, 0.0, 0.1, 0.15, 0.35, 0.5,
              0.6, 0.65, 0.5, 0.35, 0.2, 0.3, 0.3, 0.3, 0.15, -0.2,
              -0.5, -0.6, -0.35, -0.05, 0.15, 0.4, 0.35, 0.15, -0.2, -0.7,
              -0.65, -0.3, 0.0, 0.1, 0.2, 0.45, 0.5, 0.8, 0.55, 0.55,
              0.4, 0.1, -0.2, -0.3, -0.15, -0.1, -0.3, -0.55, -0.6, -0.3,
              0.1, 0.45, 0.65, 0.5, 0.4, 0.3, 0.25, 0.2, 0.25, 0.35,
              0.45, 0.5, 0.45, 0.35, -0.1, -0.3, -0.35, -0.3, -0.2, -0.05,
              0.05, 0.15, -0.05, 0.15, 0.2, 0.15, 0.2, 0.25, 0.0, -0.25,
              -0.35, -0.35, -0.3, -0.05, 0.0, 0.05, 0.0, -0.15, -0.6, -1.1,
              -1.0, -0.6, -0.35, -0.2, -0.1, -0.05, 0.0, 0.05, 0.05, 0.05,
              0.05, 0.05, -1.0, -1.8, -0.8, -0.7, 0.5, 0.45, 0.6, 0.4,
              0.0, -0.2, -0.3, -0.35]
e_post1993 = [0.3, -0.1, -0.3, -0.2, -0.1, -0.1, -0.15, -0.45, -0.25, 0.1,
              0.3, 0.2, -0.1, -0.1, -0.05, 0.05, -0.1, -0.05, 0.0, 0.05,
              0.2, 0.15, 0.05, 0.0, 0.0, 0.05, 0.05, 0.05, 0.0, -0.15,
              -0.3, -0.3, -0.25, 0.0, 0.15, 0.2, 0.15, 0.0, -0.1, -0.4,
              -0.35, -0.2, 0.0, 0.25, 0.25, 0.25, 0.25, 0.4, 0.3, 0.2,
              0.1, -0.1, -0.25, -0.3, -0.1, 0.05, -0.05, -0.15, -0.2, -0.15,
              0.1, 0.3, 0.4, 0.2, 0.05, -0.05, -0.1, -0.1, -0.05, 0.05,
              0.1, 0.15, 0.0, -0.05, -0.15, -0.25, -0.25, -0.1, 0.0, 0.1,
              0.15, 0.25, 0.05, 0.15, 0.15, 0.05, 0.0, 0.0, -0.1, -0.3,
              -0.4, -0.3, -0.25, -0.1, -0.05, -0.05, -0.05, -0.15, -0.4, -0.75,
              -0.7, -0.3, 0.0, 0.1, 0.1, 0.05, 0.05, 0.0, 0.0, 0.0,
              0.0, 0.0, -0.8, -1.3, -0.6, -0.5, 1.0, 0.7, 1.0, 0.6,
              0.2, 0.0, -0.05, -0.15]

panels = [
    (years_a, [a_baseline, a_bls, a_nodata, a_post2007, a_post1993]),
    (years_b, [b_baseline, b_bls, b_nodata, b_post2007, b_post1993]),
    (years_c, [c_baseline, c_bls, c_nodata, c_post2007, c_post1993]),
    (years_d, [d_baseline, d_bls, d_nodata, d_post2007, d_post1993]),
    (years_e, [e_baseline, e_bls, e_nodata, e_post2007, e_post1993]),
]

# ---------------- layout geometry (pixels of a 1101 x 1529 page) ----------------
W, H = 1101, 1529
panel_px = [(10, 232), (317, 539), (625, 847), (932, 1154), (1239, 1462)]   # top, bottom
left_px = [69, 69, 69, 69, 73]
x_ranges = [(1956.69, 2028.94)] * 4 + [(1956.67, 2028.65)]
title_px_y = [287, 594, 902, 1209, 1513]
ylabel_px_x = [18, 18, 18, 18, 22]

SERIF = "DejaVu Serif"
TIMES = "Liberation Serif, Times New Roman, serif"

fig = go.Figure()
layout = dict(width=W, height=H, margin=dict(l=0, r=0, t=0, b=0),
              paper_bgcolor="white", plot_bgcolor="white", showlegend=True)
shapes, annotations = [], []

for i, (yrs, vals) in enumerate(panels):
    n = i + 1
    xa = "x" if n == 1 else f"x{n}"
    ya = "y" if n == 1 else f"y{n}"
    for j, v in enumerate(vals):
        if len(v) != len(yrs):
            raise ValueError(f"panel {n} series {j}: {len(v)} values vs {len(yrs)} years")
        fig.add_trace(go.Scatter(
            x=yrs, y=v, mode="lines", name=series_names[j],
            line=dict(color=series_colors[j], width=1.6),
            showlegend=(i == 0), legendgroup=series_names[j],
            xaxis=xa, yaxis=ya, hoverinfo="skip"))
    top, bot = panel_px[i]
    layout["xaxis" if n == 1 else f"xaxis{n}"] = dict(
        domain=[left_px[i] / W, 1.0], range=list(x_ranges[i]), anchor=ya,
        tickmode="array", tickvals=year_ticks, ticktext=[str(t) for t in year_ticks],
        ticks="outside", ticklen=4, tickwidth=1, tickcolor="black",
        showline=True, linecolor="black", linewidth=1.3, showgrid=False, zeroline=False,
        tickfont=dict(family=SERIF, size=13, color="#111"), ticklabelstandoff=6)
    layout["yaxis" if n == 1 else f"yaxis{n}"] = dict(
        domain=[1 - bot / H, 1 - top / H], range=[-2.5, 2.5], anchor=xa,
        tickmode="array", tickvals=sd_ticks,
        ticks="outside", ticklen=4, tickwidth=1, tickcolor="#333",
        showline=False, zeroline=False,
        showgrid=True, gridcolor="#555", gridwidth=0.8, griddash="dot",
        tickfont=dict(family=SERIF, size=13, color="#111"), ticklabelstandoff=10)
    # recession shading
    for s, e in zip(rec_start, rec_end):
        shapes.append(dict(type="rect", xref=xa, yref=f"{ya} domain", x0=s, x1=e, y0=0, y1=1,
                           fillcolor="#e6e6e6", line=dict(width=0), layer="below"))
    # zero line
    shapes.append(dict(type="line", xref=f"{xa} domain", yref=ya, x0=0, x1=1, y0=0, y1=0,
                       line=dict(color="black", width=1.8), layer="above"))
    # panel title
    annotations.append(dict(text=panel_titles[i], xref="paper", yref="paper",
                            x=560 / W, y=1 - title_px_y[i] / H, xanchor="center", yanchor="middle",
                            showarrow=False, font=dict(family=TIMES, size=29, color="black")))
    # y-axis label
    annotations.append(dict(text="Standard Deviations", xref="paper", yref="paper",
                            x=ylabel_px_x[i] / W, y=1 - (top + bot) / 2 / H, textangle=-90,
                            xanchor="center", yanchor="middle", showarrow=False,
                            font=dict(family=SERIF, size=15.5, color="#111")))

layout["shapes"] = shapes
layout["annotations"] = annotations
layout["legend"] = dict(x=76 / W, y=1 - 122 / H, xanchor="left", yanchor="top",
                        bgcolor="rgba(255,255,255,0.8)", bordercolor="#cccccc", borderwidth=1,
                        font=dict(family=SERIF, size=12.8, color="#111"),
                        tracegroupgap=0, itemwidth=30)
fig.update_layout(**layout)
fig.write_html("out.html")
